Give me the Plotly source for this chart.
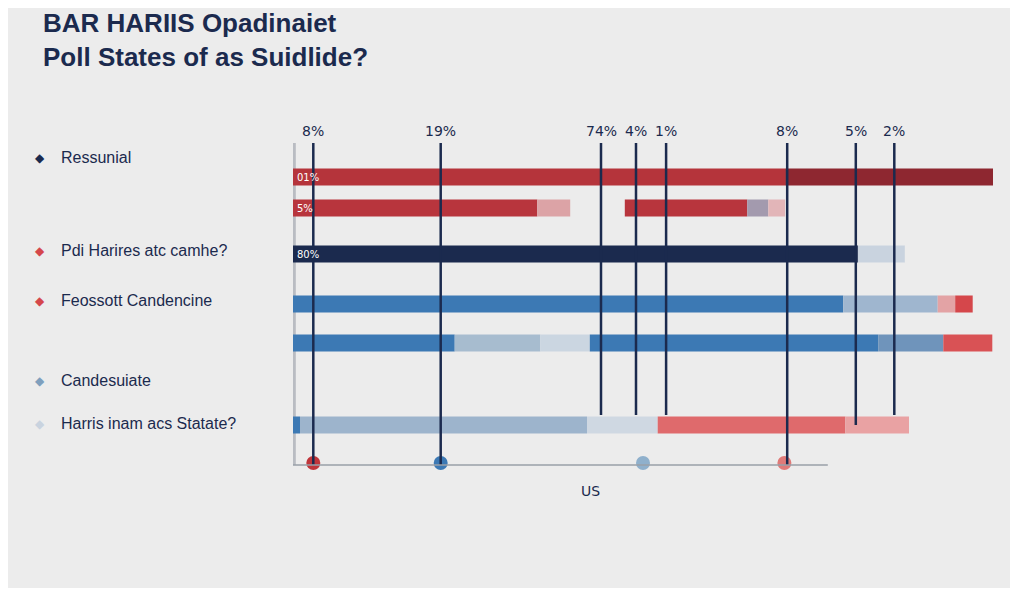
import plotly.graph_objects as go

# ---- data ----
rows = ["r1", "r2", "r3", "r4", "r5", "r6"]
row_y = [177, 208, 254, 304, 343, 425]
segments = {
    "r1": [(0, 70.3, "#b5343b"), (70.3, 100, "#8e2730")],
    "r2": [(0, 34.9, "#b8353d"), (34.9, 39.6, "#dca3a6"), (47.4, 64.9, "#b8353d"),
           (64.9, 67.9, "#a39aae"), (67.9, 70.3, "#e2b5b8")],
    "r3": [(0, 80.7, "#1b2a4e"), (80.7, 87.4, "#c9d3df")],
    "r4": [(0, 78.6, "#3c79b4"), (78.6, 92.1, "#9fb6cf"), (92.1, 94.6, "#e3a3a5"),
           (94.6, 97.1, "#d5474b")],
    "r5": [(0, 23.1, "#3c79b4"), (23.1, 35.3, "#a7bccf"), (35.3, 42.4, "#cbd6e1"),
           (42.4, 83.6, "#3c79b4"), (83.6, 92.9, "#6f94bb"), (92.9, 99.9, "#d95255")],
    "r6": [(0, 1, "#3c79b4"), (1, 42, "#9db4cc"), (42, 52.1, "#cfd8e2"),
           (52.1, 78.9, "#df6a6c"), (78.9, 88, "#e9a2a3")],
}
bar_text = {"r1": "01%", "r2": "5%", "r3": "80%"}
line_x = [2.9, 21.1, 44, 49, 53.3, 70.6, 80.4, 85.9]
line_labels = ["8%", "19%", "74%", "4%", "1%", "8%", "5%", "2%"]
line_bottom = [465, 465, 415, 415, 415, 465, 425, 415]
dots_x = [2.9, 21.1, 50, 70.2]
dots_c = ["#c0353a", "#3c79b4", "#8fb0cc", "#e07a78"]
left_labels = ["Ressunial", "Pdi Harires atc camhe?", "Feossott Candencine",
               "Candesuiate", "Harris inam acs Statate?"]
left_y = [157, 250, 300, 380, 423]
left_c = ["#1b2a4e", "#d5474b", "#d5474b", "#7f9fbd", "#c9d3df"]

fig = go.Figure()
for r, y in zip(rows, row_y):
    for s, e, c in segments[r]:
        fig.add_trace(go.Bar(y=[y], x=[e - s], base=[s], orientation="h",
                             marker=dict(color=c, line=dict(width=0)), width=17,
                             showlegend=False, hoverinfo="skip"))
    if r in bar_text:
        fig.add_annotation(x=0.3, y=y, text=bar_text[r], showarrow=False, xanchor="left",
                           font=dict(size=10, color="white", family="DejaVu Sans"))

for x, lab, b in zip(line_x, line_labels, line_bottom):
    fig.add_shape(type="line", x0=x, x1=x, y0=143, y1=b, line=dict(color="#1b2a4e", width=2.5))
    fig.add_annotation(x=x, y=131, text=lab, showarrow=False,
                       font=dict(size=14, color="#1b2a4e", family="DejaVu Sans"))

fig.add_shape(type="rect", x0=-0.6, x1=0.4, y0=143, y1=465, fillcolor="#b9bcc2",
              line=dict(width=0), layer="below")
fig.add_shape(type="line", x0=0, x1=76.4, y0=465, y1=465, line=dict(color="#9aa0a8", width=1.5))
fig.add_trace(go.Scatter(x=dots_x, y=[463] * 4, mode="markers",
                         marker=dict(size=14, color=dots_c), showlegend=False, hoverinfo="skip"))
fig.add_annotation(x=42.5, y=491, text="US", showarrow=False,
                   font=dict(size=14, color="#1b2a4e", family="DejaVu Sans"))

for t, y, c in zip(left_labels, left_y, left_c):
    fig.add_annotation(xref="paper", x=-0.371, y=y, text="◆", showarrow=False,
                       font=dict(size=12, color=c))
    fig.add_annotation(xref="paper", x=-0.335, y=y, text=t, showarrow=False, xanchor="left",
                       font=dict(size=16, color="#1b2a4e", family="Liberation Sans"))

fig.add_annotation(xref="paper", yref="paper", x=-0.36, y=1.335, xanchor="left", yanchor="top",
                   text="<b>BAR HARIIS Opadinaiet<br>Poll States of as Suidlide?</b>",
                   showarrow=False, align="left",
                   font=dict(size=26, color="#1b2a4e", family="Liberation Sans"))

fig.update_layout(
    width=1002, height=580, barmode="overlay",
    margin=dict(l=285, r=17, t=122, b=88),
    paper_bgcolor="#ececec", plot_bgcolor="rgba(0,0,0,0)",
    xaxis=dict(range=[0, 100], visible=False, fixedrange=True),
    yaxis=dict(range=[500, 130], visible=False, fixedrange=True),
)
fig.write_html("out.html")
